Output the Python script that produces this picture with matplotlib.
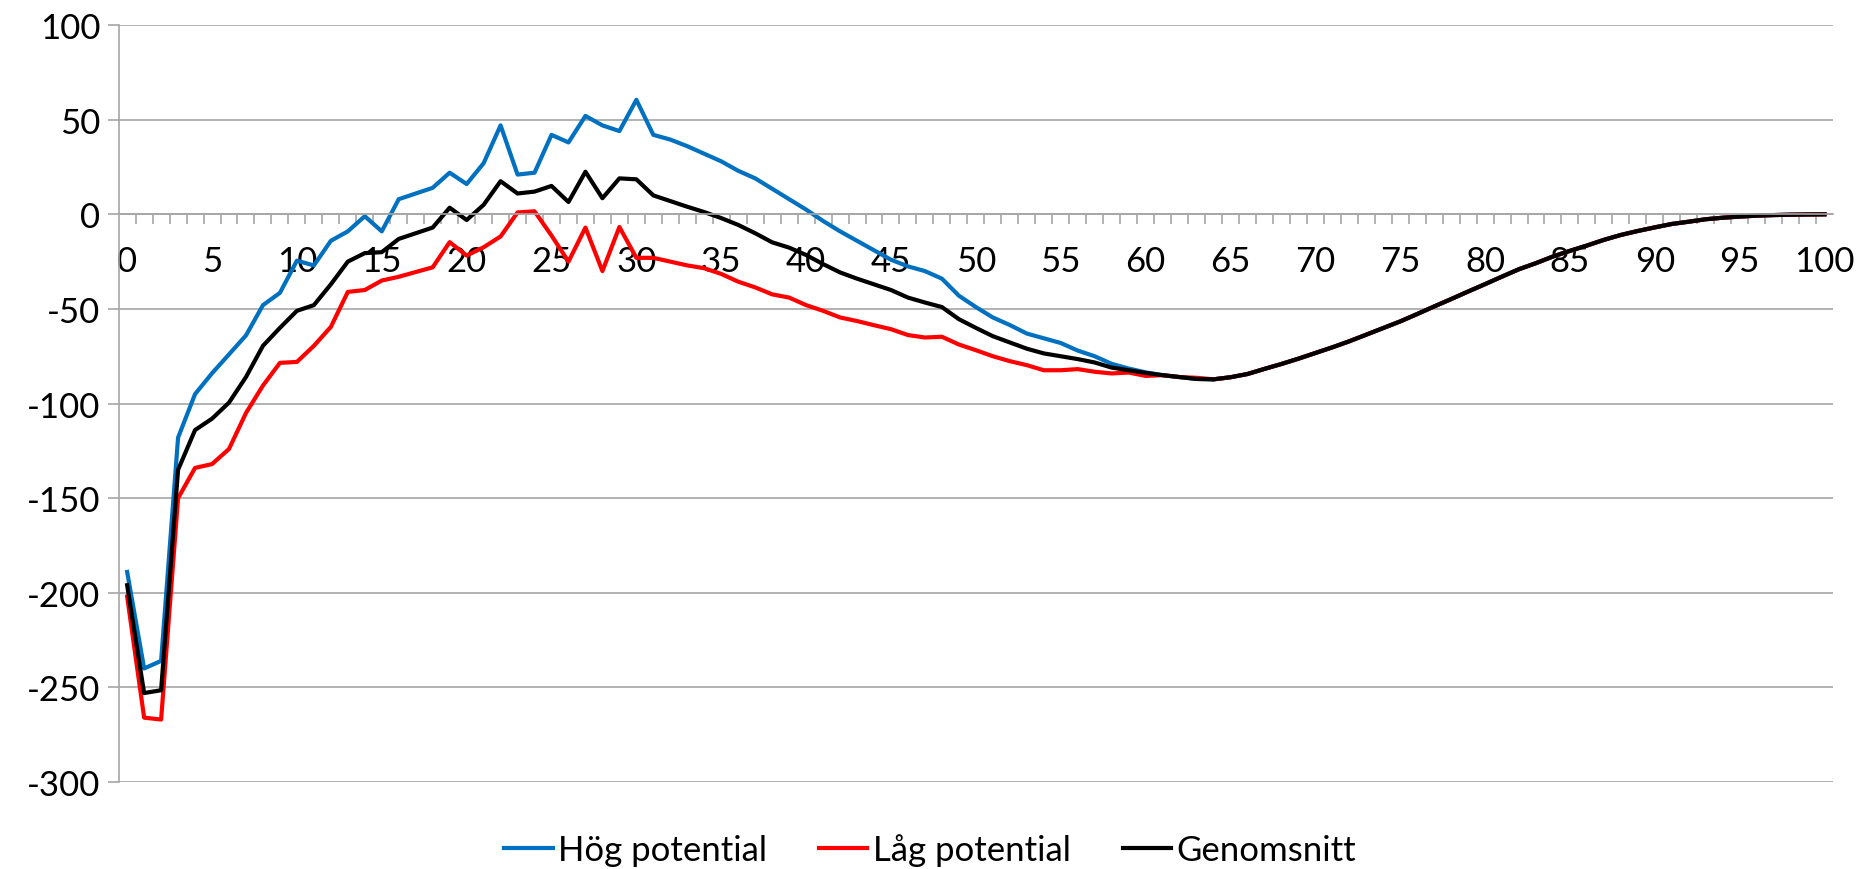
import numpy as np
import matplotlib
matplotlib.use("Agg")
import matplotlib.pyplot as plt
from matplotlib.ticker import MultipleLocator, FixedLocator

plt.rcParams['font.family'] = ['Lato', 'DejaVu Sans']
plt.rcParams['axes.unicode_minus'] = False

# values, x = 0..100
hog_start = [-189, -240, -236, -118, -95, -84, -74, -64, -48, -41.5,
             -24.5, -27, -14, -9, -1, -9, 8, 11, 14, 22,
             16, 27, 47, 21, 22, 42, 38, 52, 47, 44,
             60.5, 42, 39.5, 36, 32, 28, 23, 19, 13.5, 8,
             2.5, -3.5, -9, -14, -19, -24, -27.5, -30, -34, -43,
             -49, -54.5, -58.5, -63, -65.5, -68, -72, -75, -79, -81.5,
             -83.5, -85, -86, -87]
lag_start = [-202, -266, -267, -150, -134, -132, -124, -105, -90.5, -78.5,
             -78, -69.5, -59.5, -41, -40, -35, -33, -30.5, -28, -14.7,
             -21.8, -17.4, -11.7, 1, 1.6, -11.2, -25, -7, -30, -6.7,
             -23, -23, -25, -27, -28.5, -31.5, -35.6, -38.6, -42.3, -44,
             -48, -51, -54.5, -56.4, -58.6, -60.7, -63.8, -65.1, -64.7, -68.8,
             -71.8, -75, -77.6, -79.7, -82.4, -82.4, -81.8, -83.2, -84.1, -83.6,
             -85.4, -85, -86, -86.4]
snitt_start = [-196, -253, -251.5, -135, -114, -108, -99.5, -86, -69.5, -60,
               -51, -48, -37, -25, -20.5, -20, -13, -10, -7, 3.5,
               -3, 5, 17.5, 11, 12, 15, 6.5, 22.5, 8.5, 19,
               18.5, 10, 7, 4, 1.2, -2, -5.6, -10, -14.8, -17.6,
               -21.5, -26.3, -30.7, -34, -37, -40, -44, -46.6, -49, -55.4,
               -60, -64.4, -67.7, -71, -73.5, -75, -76.5, -78.3, -81, -82.4,
               -83.8, -85, -86, -87]
# from x = 64 the three series coincide
gemensam = [-87.2, -86.1, -84.4, -81.7, -79.1, -76.3, -73.3, -70.3, -67.1, -63.6,
            -60.1, -56.6, -52.7, -48.7, -44.8, -40.8, -36.9, -32.9, -29, -25.8,
            -22.3, -19.3, -16.5, -13.5, -10.9, -8.8, -6.9, -5.1, -3.9, -2.6,
            -1.8, -1.2, -0.7, -0.4, -0.2, -0.1, 0]

hog = hog_start + gemensam
lag = lag_start + gemensam
snitt = snitt_start + gemensam
x = np.arange(len(hog))

grid_col = '#a6a6a6'
fs = 25

fig = plt.figure(figsize=(18.6, 8.7), dpi=100)
ax = fig.add_axes([0.0638, 0.1, 0.9217, 0.870])

ax.plot(x, hog, color='#0070C0', lw=3, label='Hög potential')
ax.plot(x, lag, color='#FF0000', lw=3, label='Låg potential')
ax.plot(x, snitt, color='black', lw=3, label='Genomsnitt')

ax.set_xlim(-0.5, 100.5)
ax.set_ylim(-300, 100)
ax.yaxis.set_major_locator(MultipleLocator(50))
ax.grid(axis='y', color=grid_col, lw=1.2)
ax.set_axisbelow(True)

for s in ['top', 'right']:
    ax.spines[s].set_visible(False)
ax.spines['bottom'].set_position(('data', 0))
ax.spines['bottom'].set_color(grid_col)
ax.spines['left'].set_color(grid_col)
ax.spines['bottom'].set_linewidth(1.2)
ax.spines['left'].set_linewidth(1.2)

ax.xaxis.set_major_locator(FixedLocator(np.arange(0, 101, 5)))
ax.xaxis.set_minor_locator(FixedLocator(np.arange(0.5, 100, 1)))
ax.tick_params(axis='x', which='major', length=0, pad=22, labelsize=fs)
ax.tick_params(axis='x', which='minor', length=7, width=1.2, color=grid_col,
               direction='out')
ax.tick_params(axis='y', which='major', length=8, width=1.2, color=grid_col,
               pad=5, labelsize=fs)

fig.legend(loc='center', bbox_to_anchor=(0.5, 0.022), ncol=3, frameon=False,
           fontsize=fs, handlelength=1.4, handletextpad=0.15, columnspacing=1.5)

fig.savefig('out.png', dpi=100)
